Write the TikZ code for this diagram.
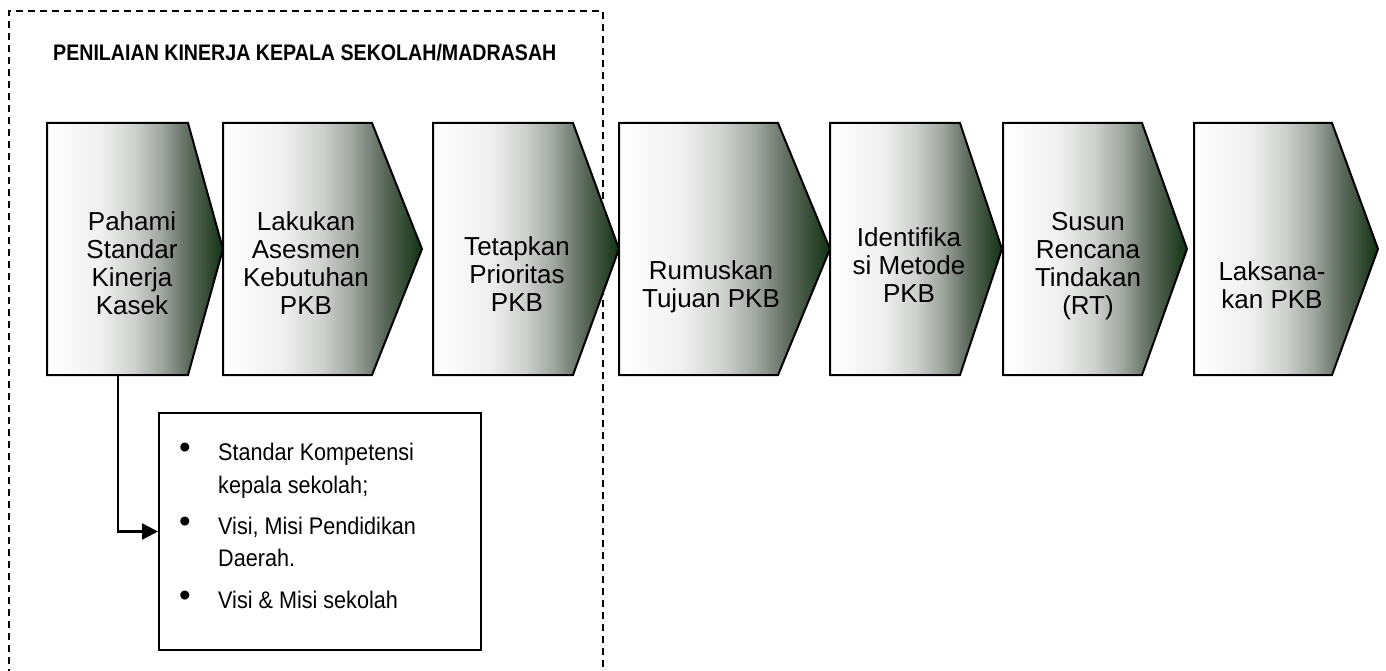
\documentclass[tikz,border=0pt]{standalone}
\usepackage{fontspec}
\setmainfont{Liberation Sans}
\usetikzlibrary{arrows.meta}
\definecolor{s0}{HTML}{FFFFFF}
\definecolor{s1}{HTML}{F0F0F0}
\definecolor{s2}{HTML}{CDD0CD}
\definecolor{s3}{HTML}{A0A6A0}
\definecolor{s4}{HTML}{5E6B5E}
\definecolor{s5}{HTML}{123212}
\pgfdeclarehorizontalshading{chevshade}{100bp}{color(0bp)=(s0); color(25bp)=(s0); color(40bp)=(s1); color(50bp)=(s2); color(57.5bp)=(s3); color(65bp)=(s4); color(75bp)=(s5); color(100bp)=(s5)}
\tikzset{
  chev/.style={draw=black, line width=2pt, shading=chevshade, line join=miter},
  boxtext/.style={align=center, inner sep=0pt, font=\fontsize{26}{28}\selectfont},
  infotext/.style={anchor=base west, inner sep=0pt, font=\fontsize{24}{33}\selectfont},
  bul/.style={anchor=base, inner sep=0pt, font=\fontsize{33}{33}\selectfont},
  frame/.style={draw=black, line width=1.8pt, dash pattern=on 7pt off 5pt},
  conn/.style={draw=black, line width=2.5pt, -{Triangle[length=16pt,width=16pt]}},
}
\begin{document}
\begin{tikzpicture}[x=1pt,y=-1pt]
\useasboundingbox (0,0) rectangle (1386,671);
\fill[white] (0,0) rectangle (1386,671);
% dashed frame (open at bottom)
\draw[frame] (9,700) -- (9,11) -- (603,11) -- (603,700);
\node[anchor=base west, inner sep=0pt, font=\bfseries\fontsize{22.5}{26}\selectfont] (title) at (53,61) {\scalebox{0.872}[1]{PENILAIAN KINERJA KEPALA SEKOLAH/MADRASAH}};
% chevrons
\foreach \a/\b/\c in {47/188/223, 223/372/422, 433/573/619, 619/778/830, 830/960/1002, 1003/1142/1187, 1194/1332/1378}{
  \path[chev] (\a,123) -- (\b,123) -- (\c,249) -- (\b,375) -- (\a,375) -- cycle;
}
\node[boxtext] (t1) at (132,263) {Pahami\\Standar\\Kinerja\\Kasek};
\node[boxtext] (t2) at (306,263) {Lakukan\\Asesmen\\Kebutuhan\\PKB};
\node[boxtext] (t3) at (517,274) {Tetapkan\\Prioritas\\PKB};
\node[boxtext] (t4) at (711,287) {Rumuskan\\Tujuan PKB};
\node[boxtext] (t5) at (909,265) {Identifika\\si Metode\\PKB};
\node[boxtext] (t6) at (1088,266) {Susun\\Rencana\\Tindakan\\(RT)};
\node[boxtext] (t7) at (1272,285) {Laksana-\\kan PKB};
% info box
\node[draw=black, line width=2pt, minimum width=322pt, minimum height=237pt, inner sep=0pt] (info) at (320,531.5) {};
\node[bul] (bl1) at (185,458) {•};
\node[bul] (bl2) at (185,532) {•};
\node[bul] (bl3) at (185,606) {•};
\node[infotext] (i1) at (218,460) {\scalebox{0.9}[1]{Standar Kompetensi}};
\node[infotext] (i2) at (218,493) {\scalebox{0.9}[1]{kepala sekolah;}};
\node[infotext] (i3) at (218,534) {\scalebox{0.9}[1]{Visi, Misi Pendidikan}};
\node[infotext] (i4) at (218,566) {\scalebox{0.9}[1]{Daerah.}};
\node[infotext] (i5) at (218,608) {\scalebox{0.9}[1]{Visi \& Misi sekolah}};
% connector
\coordinate (b1) at (118,375);
\draw[conn] (b1) |- (info.west);
\end{tikzpicture}
\end{document}
